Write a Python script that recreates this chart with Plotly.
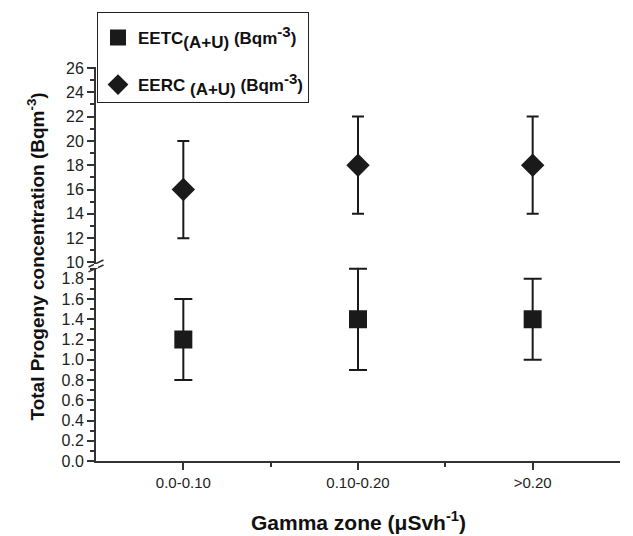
import plotly.graph_objects as go

categories = ["0.0-0.10", "0.10-0.20", ">0.20"]
eetc_values = [1.2, 1.4, 1.4]
eetc_err_plus = [0.4, 0.5, 0.4]
eetc_err_minus = [0.4, 0.5, 0.4]
eerc_values = [16, 18, 18]
eerc_err = [4, 4, 4]

xpos = list(range(len(categories)))
dark = "#1a1a1a"
axcol = "#333333"
font_family = "Liberation Sans, Arial, sans-serif"

SUB = "<sub><span style='font-size:17px'>(A+U)</span></sub>"
SUP = "<sup><span style='font-size:15px'>-3</span></sup>"

fig = go.Figure()
fig.add_trace(go.Scatter(
    x=xpos, y=eetc_values, mode="markers", yaxis="y",
    name="<b>EETC" + SUB + " (Bqm" + SUP + ")</b>",
    marker=dict(symbol="square", size=18, color=dark),
    error_y=dict(type="data", array=eetc_err_plus, arrayminus=eetc_err_minus,
                 symmetric=False, color=dark, thickness=2, width=9),
    legendgroup="a",
))
fig.add_trace(go.Scatter(
    x=xpos, y=eerc_values, mode="markers", yaxis="y2",
    name="<b>EERC " + SUB + " (Bqm" + SUP + ")</b>",
    marker=dict(symbol="diamond", size=18, color=dark),
    error_y=dict(type="data", array=eerc_err, color=dark, thickness=2, width=6),
    legendgroup="b",
))

H = 397.0
def py(p):
    return (461 - p) / H
def px(p):
    return (p - 96) / 524.0

axis_common = dict(showline=True, linecolor=axcol, linewidth=2, ticks="outside",
                   ticklen=7, tickwidth=1.5, tickcolor=axcol, showgrid=False, automargin=False,
                   zeroline=False, tickfont=dict(size=16, color="#222", family=font_family))

fig.update_layout(
    width=633, height=536,
    margin=dict(l=96, r=13, t=64, b=75),
    plot_bgcolor="white", paper_bgcolor="white",
    font=dict(family=font_family, color="#111"),
    showlegend=True,
    legend=dict(x=px(97), y=py(9), xanchor="left", yanchor="top",
                bordercolor="#222", borderwidth=1, bgcolor="white",
                font=dict(size=17, color="#111", family=font_family),
                title=dict(text=" ", font=dict(size=5)),
                traceorder="grouped", tracegroupgap=22),
    xaxis=dict(range=[-0.5, 2.5], tickvals=xpos, ticktext=categories,
               minor=dict(tickvals=[0.5, 1.5], ticks="outside", ticklen=4, tickcolor=axcol, tickwidth=1.5),
               anchor="y",
               **{**axis_common, "tickfont": dict(size=15, color="#222", family=font_family)}),
    yaxis=dict(domain=[0, 195.8 / H], range=[0, 1.92], dtick=0.2, tick0=0, tickformat=".1f",
               minor=dict(dtick=0.1, ticks="outside", ticklen=4, tickcolor=axcol, tickwidth=1.5),
               anchor="x", **axis_common),
    yaxis2=dict(domain=[py(262.8), 1], range=[9.85, 26.08], dtick=2, tick0=10,
                minor=dict(dtick=1, ticks="outside", ticklen=4, tickcolor=axcol, tickwidth=1.5),
                anchor="x", **axis_common),
)

# axis break marks
for dy in (0, 5):
    fig.add_shape(type="line", xref="paper", yref="paper",
                  x0=px(88.5), y0=py(265.5 + dy), x1=px(103.5), y1=py(258.5 + dy),
                  line=dict(color=axcol, width=1.5))
fig.add_shape(type="rect", xref="paper", yref="paper",
              x0=px(94), y0=py(266.5), x1=px(98), y1=py(262.5), fillcolor="white", line_width=0, layer="above")

fig.add_annotation(text="<b>Total Progeny concentration (Bqm<sup>-3</sup>)</b>",
                   xref="paper", yref="paper", x=px(36), y=py(255), textangle=-90,
                   showarrow=False, font=dict(size=19, color="#111"), xanchor="center", yanchor="middle")
fig.add_annotation(text="<b>Gamma zone (μSvh<sup>-1</sup>)</b>",
                   xref="paper", yref="paper", x=px(358), y=py(521), 
                   showarrow=False, font=dict(size=21, color="#111"), xanchor="center", yanchor="middle")

fig.write_html("out.html")
